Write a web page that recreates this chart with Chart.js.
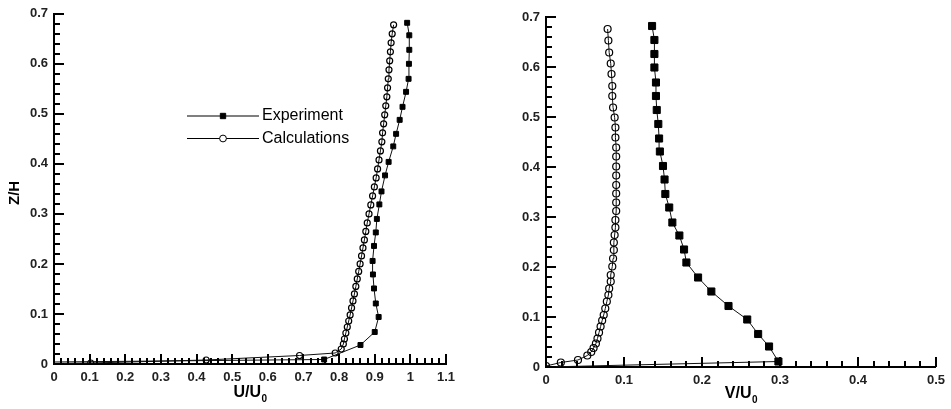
<!DOCTYPE html>
<html>
<head>
<meta charset="utf-8">
<script src="https://cdn.jsdelivr.net/npm/chart.js@4.4.0/dist/chart.umd.min.js"></script>
<style>
  html, body { margin: 0; padding: 0; background: #fff; }
  #wrap { position: relative; width: 951px; height: 409px; }
  canvas { position: absolute; top: 0; }
  #chartU { left: 0; }
  #chartV { left: 476px; }
</style>
</head>
<body>
<div id="wrap">
  <canvas id="chartU" width="476" height="409"></canvas>
  <canvas id="chartV" width="475" height="409"></canvas>
</div>
<script>
// ---- tick labels ----
const zLabels = ['0', '0.1', '0.2', '0.3', '0.4', '0.5', '0.6', '0.7'];
const uLabels = ['0', '0.1', '0.2', '0.3', '0.4', '0.5', '0.6', '0.7', '0.8', '0.9', '1', '1.1'];
const vLabels = ['0', '0.1', '0.2', '0.3', '0.4', '0.5'];

// ---- left panel: U/U0 ----
const expU  = [0.000, 0.758, 0.860, 0.900, 0.911, 0.903, 0.898, 0.895, 0.894, 0.898, 0.903, 0.906, 0.913,
               0.919, 0.929, 0.939, 0.952, 0.960, 0.970, 0.978, 0.988, 0.995, 0.996, 0.997, 0.997, 0.991];
const expUz = [0.004, 0.009, 0.038, 0.064, 0.094, 0.121, 0.151, 0.179, 0.206, 0.236, 0.263, 0.290, 0.319,
               0.345, 0.377, 0.404, 0.435, 0.460, 0.488, 0.514, 0.544, 0.570, 0.600, 0.628, 0.657, 0.682];

const calcU  = [0.000, 0.103, 0.427, 0.689, 0.789, 0.806, 0.812, 0.815, 0.819, 0.823, 0.827, 0.831, 0.835,
                0.839, 0.843, 0.847, 0.851, 0.855, 0.859, 0.863, 0.867, 0.871, 0.875, 0.879, 0.884, 0.889,
                0.894, 0.899, 0.904, 0.908, 0.912, 0.916, 0.920, 0.922, 0.925, 0.928, 0.931, 0.934, 0.936,
                0.938, 0.940, 0.942, 0.944, 0.946, 0.949, 0.953];
const calcUz = [0.001, 0.002, 0.008, 0.017, 0.022, 0.030, 0.040, 0.050, 0.062, 0.074, 0.086, 0.098, 0.112,
                0.126, 0.140, 0.155, 0.170, 0.185, 0.200, 0.216, 0.232, 0.248, 0.265, 0.282, 0.300, 0.318,
                0.336, 0.354, 0.372, 0.390, 0.408, 0.426, 0.444, 0.462, 0.480, 0.498, 0.516, 0.534, 0.552,
                0.570, 0.588, 0.606, 0.624, 0.642, 0.660, 0.678];

// ---- right panel: V/U0 ----
const expV  = [0.000, 0.298, 0.286, 0.272, 0.258, 0.234, 0.212, 0.195, 0.180, 0.177, 0.171, 0.162, 0.158,
               0.153, 0.152, 0.150, 0.146, 0.145, 0.144, 0.142, 0.141, 0.141, 0.139, 0.139, 0.139, 0.136];
const expVz = [0.000, 0.011, 0.041, 0.066, 0.095, 0.122, 0.151, 0.179, 0.209, 0.235, 0.263, 0.289, 0.319,
               0.346, 0.375, 0.402, 0.431, 0.457, 0.486, 0.514, 0.542, 0.569, 0.599, 0.626, 0.654, 0.682];

const calcV  = [0.000, 0.019, 0.041, 0.053, 0.058, 0.061, 0.064, 0.066, 0.068, 0.070, 0.072, 0.074, 0.076,
                0.078, 0.080, 0.081, 0.083, 0.083, 0.085, 0.086, 0.087, 0.087, 0.088, 0.089, 0.089, 0.090,
                0.090, 0.090, 0.090, 0.090, 0.090, 0.090, 0.090, 0.089, 0.089, 0.088, 0.086, 0.085, 0.085,
                0.084, 0.083, 0.081, 0.080, 0.079];
const calcVz = [0.002, 0.009, 0.014, 0.023, 0.030, 0.038, 0.047, 0.057, 0.069, 0.081, 0.093, 0.104, 0.117,
                0.131, 0.144, 0.157, 0.171, 0.184, 0.201, 0.217, 0.234, 0.249, 0.264, 0.279, 0.294, 0.312,
                0.329, 0.347, 0.364, 0.383, 0.401, 0.421, 0.439, 0.459, 0.479, 0.499, 0.519, 0.542, 0.562,
                0.586, 0.607, 0.629, 0.653, 0.676];

const FONT = "'Liberation Sans', Arial, sans-serif";

function pts(xs, zs) {
    return xs.map((x, i) => ({ x: x, y: zs[i] }));
}

// ticks pointing inward, majors every 0.1, minors every 0.02
function drawScaleTicks(ctx, scale, area, horizontal) {
    const n = Math.round((scale.max - scale.min) / 0.02);
    ctx.beginPath();
    for (let i = 0; i <= n; i++) {
        const p = Math.round(scale.getPixelForValue(scale.min + i * 0.02));
        const len = i % 5 === 0 ? 10 : 6;
        if (horizontal) {
            ctx.moveTo(p, area.bottom);
            ctx.lineTo(p, area.bottom - len);
        } else {
            ctx.moveTo(area.left, p);
            ctx.lineTo(area.left + len, p);
        }
    }
    ctx.stroke();
}

const innerTicks = {
    id: 'innerTicks',
    afterDraw(chart) {
        const ctx = chart.ctx;
        ctx.save();
        ctx.lineWidth = 2;
        ctx.strokeStyle = '#000';
        drawScaleTicks(ctx, chart.scales.x, chart.chartArea, true);
        drawScaleTicks(ctx, chart.scales.y, chart.chartArea, false);
        ctx.restore();
    }
};

// axis titles with the subscript 0
const axisTitles = {
    id: 'axisTitles',
    afterDraw(chart, args, opts) {
        const ctx = chart.ctx;
        const a = chart.chartArea;
        ctx.save();
        ctx.fillStyle = '#000';
        ctx.textBaseline = 'alphabetic';
        const main = opts.xMain, sub = '0';
        ctx.font = 'bold 16px ' + FONT;
        const w1 = ctx.measureText(main).width;
        ctx.font = 'bold 10px ' + FONT;
        const w2 = ctx.measureText(sub).width;
        const x0 = (a.left + a.right) / 2 - (w1 + w2) / 2;
        ctx.font = 'bold 16px ' + FONT;
        ctx.textAlign = 'left';
        ctx.fillText(main, x0, opts.xBase);
        ctx.font = 'bold 10px ' + FONT;
        ctx.fillText(sub, x0 + w1 + 0.5, opts.xBase + 5);
        if (opts.yTitle) {
            ctx.translate(opts.yX, (a.top + a.bottom) / 2 + 4);
            ctx.rotate(-Math.PI / 2);
            ctx.font = 'bold 15px ' + FONT;
            ctx.textAlign = 'center';
            ctx.textBaseline = 'middle';
            ctx.fillText(opts.yTitle, 0, 0);
        }
        ctx.restore();
    }
};

// legend with a line through the marker
const lineLegend = {
    id: 'lineLegend',
    afterDraw(chart, args, opts) {
        const ctx = chart.ctx;
        ctx.save();
        chart.data.datasets.forEach((ds, i) => {
            const y = opts.y + i * opts.gap;
            ctx.strokeStyle = '#000';
            ctx.lineWidth = 1.2;
            ctx.beginPath();
            ctx.moveTo(opts.x, y);
            ctx.lineTo(opts.x + opts.len, y);
            ctx.stroke();
            const isRect = ds.pointStyle === 'rect';
            ctx.fillStyle = isRect ? '#000' : '#fff';
            ctx.lineWidth = 1;
            Chart.helpers.drawPoint(ctx, {
                pointStyle: ds.pointStyle,
                radius: isRect ? 3.8 : 3.4,
                borderWidth: 1
            }, opts.x + opts.len / 2, y);
            ctx.fillStyle = '#000';
            ctx.font = '16px ' + FONT;
            ctx.textAlign = 'left';
            ctx.textBaseline = 'middle';
            ctx.fillText(ds.label, opts.x + opts.len + 3, y);
        });
        ctx.restore();
    }
};

function makeScales(xMax, xLabels, yWidth, xHeight) {
    const tickFont = { family: FONT, size: 13, weight: 'bold' };
    return {
        x: {
            type: 'linear', min: 0, max: xMax,
            grid: { display: false, drawTicks: false, tickLength: 0 },
            border: { display: true, color: '#000', width: 2 },
            ticks: { stepSize: 0.1, autoSkip: false, maxRotation: 0, padding: 6, color: '#222', font: tickFont,
                     callback: v => xLabels[Math.round(v * 10)] },
            afterFit: s => { s.height = xHeight; }
        },
        y: {
            type: 'linear', min: 0, max: 0.7,
            grid: { display: false, drawTicks: false, tickLength: 0 },
            border: { display: true, color: '#000', width: 2 },
            ticks: { stepSize: 0.1, autoSkip: false, padding: 6, color: '#222', font: tickFont,
                     callback: v => zLabels[Math.round(v * 10)] },
            afterFit: s => { s.width = yWidth; }
        }
    };
}

function expSet(xs, zs, r) {
    return {
        label: 'Experiment',
        data: pts(xs, zs),
        showLine: true,
        borderColor: '#111',
        borderWidth: 1,
        pointStyle: 'rect',
        pointRadius: xs.map((_, i) => i === 0 ? 0 : r),
        pointBackgroundColor: '#000',
        pointBorderColor: '#000',
        pointBorderWidth: 1
    };
}

function calcSet(xs, zs, r, hideFirst) {
    return {
        label: 'Calculations',
        data: pts(xs, zs),
        showLine: true,
        borderColor: '#111',
        borderWidth: 1,
        pointStyle: 'circle',
        pointRadius: xs.map((_, i) => (hideFirst && i === 0) ? 0 : r),
        pointBackgroundColor: 'rgba(255,255,255,0)',
        pointBorderColor: '#000',
        pointBorderWidth: 1.2
    };
}

const common = {
    responsive: false,
    animation: false,
    events: []
};

new Chart(document.getElementById('chartU').getContext('2d'), {
    type: 'scatter',
    data: { datasets: [expSet(expU, expUz, 3.5), calcSet(calcU, calcUz, 3, true)] },
    options: Object.assign({}, common, {
        layout: { padding: { top: 13, right: 30, left: 0, bottom: 0 } },
        scales: makeScales(1.1, uLabels, 54, 45),
        plugins: {
            legend: { display: false }, tooltip: { enabled: false },
            axisTitles: { xMain: 'U/U', xBase: 397, yTitle: 'Z/H', yX: 15 },
            lineLegend: { x: 187, y: 116, gap: 22.5, len: 72 }
        }
    }),
    plugins: [innerTicks, axisTitles, lineLegend]
});

new Chart(document.getElementById('chartV').getContext('2d'), {
    type: 'scatter',
    data: { datasets: [expSet(expV, expVz, 5), calcSet(calcV, calcVz, 3.5, false)] },
    options: Object.assign({}, common, {
        layout: { padding: { top: 17, right: 11, left: 0, bottom: 0 } },
        scales: makeScales(0.5, vLabels, 70, 42),
        plugins: {
            legend: { display: false }, tooltip: { enabled: false },
            axisTitles: { xMain: 'V/U', xBase: 398 }
        }
    }),
    plugins: [innerTicks, axisTitles]
});
</script>
</body>
</html>
